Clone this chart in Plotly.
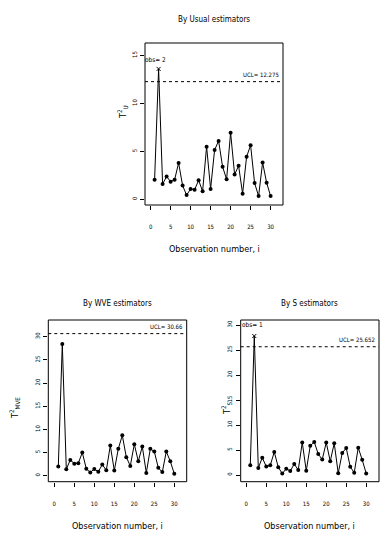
import plotly.graph_objects as go

obs = list(range(1, 31))

t2_usual = [2.05, 13.6, 1.6, 2.4, 1.85, 2.05, 3.8, 1.45, 0.45, 1.1, 1.0, 2.0, 0.85, 5.5, 1.1,
            5.15, 6.1, 3.4, 2.1, 6.95, 2.6, 3.5, 0.6, 4.45, 5.65, 1.7, 0.35, 3.85, 1.75, 0.35]
t2_mve = [2.0, 28.4, 1.4, 3.4, 2.6, 2.7, 5.0, 1.5, 0.7, 1.45, 0.85, 2.4, 1.15, 6.5, 1.1,
          5.8, 8.7, 4.0, 2.1, 6.8, 3.1, 6.3, 0.6, 5.8, 5.2, 1.7, 0.8, 5.2, 3.1, 0.4]
t2_s = [1.95, 27.8, 1.4, 3.45, 1.7, 1.95, 4.6, 1.55, 0.3, 1.25, 0.8, 2.2, 1.0, 6.5, 0.85,
        5.85, 6.6, 4.2, 3.1, 6.5, 2.75, 6.35, 0.35, 4.4, 5.4, 1.65, 0.45, 5.45, 3.05, 0.3]

ucl_usual = 12.275
ucl_mve = 30.66
ucl_s = 25.652

titles = ["By Usual estimators", "By WVE estimators", "By S estimators"]
xlabel = "Observation number, i"
x_ticks = [0, 5, 10, 15, 20, 25, 30]
y_ticks_usual = [0, 5, 10, 15]
y_ticks_mve = [0, 5, 10, 15, 20, 25, 30]
y_ticks_s = [0, 5, 10, 15, 20, 25, 30]

W, H = 392, 539
FONT = "DejaVu Sans Condensed, Liberation Sans Narrow, Liberation Sans, Arial, sans-serif"

# panel boxes in pixels: (left, right, top, bottom)
boxes = [(145, 283, 43, 205), (48.3, 186.7, 320, 481.7), (240.7, 379, 320, 481.7)]
xranges = [[-1.4, 33.1], [-1.5, 33.1], [-1.4, 33.2]]
yranges = [[-0.58, 16.3], [-1.3, 33.6], [-1.34, 31.0]]

fig = go.Figure()

series = [t2_usual, t2_mve, t2_s]
ucls = [ucl_usual, ucl_mve, ucl_s]
yticks = [y_ticks_usual, y_ticks_mve, y_ticks_s]

for i in range(3):
    ax = "" if i == 0 else str(i + 1)
    vals = series[i]
    ucl = ucls[i]
    normal_x = [o for o, v in zip(obs, vals) if v <= ucl]
    normal_y = [v for v in vals if v <= ucl]
    out_x = [o for o, v in zip(obs, vals) if v > ucl]
    out_y = [v for v in vals if v > ucl]
    fig.add_trace(go.Scatter(x=obs, y=vals, mode="lines", line=dict(color="black", width=1),
                             xaxis="x" + ax, yaxis="y" + ax, showlegend=False, hoverinfo="skip"))
    fig.add_trace(go.Scatter(x=normal_x, y=normal_y, mode="markers",
                             marker=dict(color="black", size=4),
                             xaxis="x" + ax, yaxis="y" + ax, showlegend=False))
    if out_x:
        fig.add_trace(go.Scatter(x=out_x, y=out_y, mode="markers",
                                 marker=dict(color="black", size=4, symbol="x-thin-open",
                                             line=dict(color="black", width=1)),
                                 xaxis="x" + ax, yaxis="y" + ax, showlegend=False))
    l, r, t, b = boxes[i]
    common = dict(showgrid=False, zeroline=False, showline=False,
                  ticks="outside", ticklen=4,
                  tickwidth=1, tickcolor="black",
                  tickfont=dict(family=FONT, size=6, color="black"))
    fig.update_layout(**{
        "xaxis" + ax: dict(domain=[l / W, r / W], range=xranges[i], anchor="y" + ax,
                           tickvals=x_ticks, ticklabelstandoff=12, **common),
        "yaxis" + ax: dict(domain=[1 - b / H, 1 - t / H], range=yranges[i], anchor="x" + ax,
                           tickvals=yticks[i], tickangle=-90, ticklabelstandoff=1, **common),
    })
    # frame
    fig.add_shape(type="rect", xref="x" + ax + " domain", yref="y" + ax + " domain",
                  x0=0, x1=1, y0=0, y1=1, line=dict(color="black", width=1),
                  fillcolor="rgba(0,0,0,0)")
    fig.add_shape(type="line", xref="x" + ax + " domain", x0=0, x1=1,
                  yref="y" + ax, y0=ucl, y1=ucl,
                  line=dict(color="black", width=1, dash="3px,3px"))
    fig.add_annotation(xref="x" + ax + " domain", x=0.985, yref="y" + ax, y=ucl,
                       text="UCL= " + ("%g" % ucl), showarrow=False, xanchor="right",
                       yanchor="bottom", yshift=2,
                       font=dict(family=FONT, size=6, color="black"))
    # panel title
    fig.add_annotation(xref="paper", yref="paper", x=(l + r) / 2 / W,
                       y=1 - (t - 23 if i == 0 else t - 17) / H,
                       xanchor="center", yanchor="middle",
                       text=titles[i], showarrow=False,
                       font=dict(family=FONT, size=8, color="black"))
    # x label
    fig.add_annotation(xref="paper", yref="paper", x=(l + r) / 2 / W,
                       y=1 - (b + 44) / H, text=xlabel, showarrow=False,
                       xanchor="center", yanchor="middle",
                       font=dict(family=FONT, size=9, color="black"))

# obs labels
fig.add_annotation(xref="x", yref="y", x=1.2, y=14.5, text="obs= 2", showarrow=False,
                   font=dict(family=FONT, size=6.5, color="black"))
fig.add_annotation(xref="x3", yref="y3", x=1.6, y=30.0, text="obs= 1", showarrow=False,
                   font=dict(family=FONT, size=6.5, color="black"))

# y-axis titles
ytitles = [("T<sup>2</sup><sub>U</sub>", 122, 112), ("T<sup>2</sup><sub>MVE</sub>", 14, 408),
           ("T<sup>2</sup><sub>S</sub>", 226, 408)]
for txt, px, py in ytitles:
    fig.add_annotation(xref="paper", yref="paper", x=px / W, y=1 - py / H, text=txt,
                       textangle=-90, showarrow=False, xanchor="center", yanchor="middle",
                       font=dict(family=FONT, size=9, color="black"))

fig.update_layout(width=W, height=H, margin=dict(l=0, r=0, t=0, b=0),
                  plot_bgcolor="white", paper_bgcolor="white")

fig.write_html("out.html", config={"displayModeBar": False},
               post_script="document.body.style.margin='0';")
